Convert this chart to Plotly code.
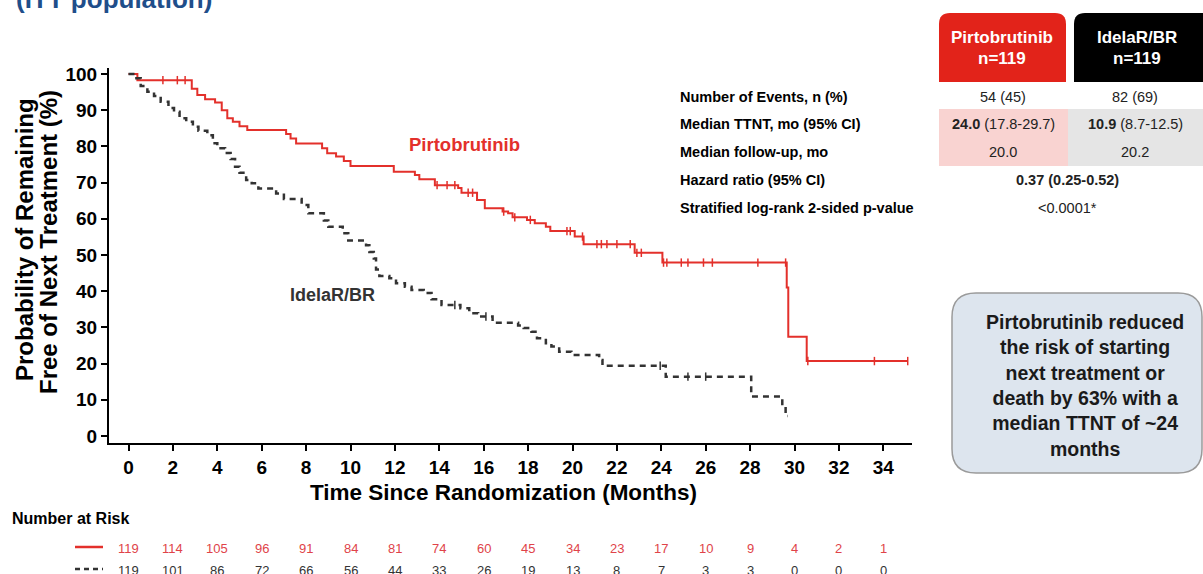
import numpy as np
import plotly.graph_objects as go

# Kaplan-Meier step data: time since randomization (months) and % free of next treatment
pirto_t = [0, 0.4, 2.85, 3.1, 3.45, 3.9, 4.2, 4.45, 4.7, 5.0, 5.35, 7.1, 7.3, 7.55, 8.72,
           8.95, 9.35, 9.7, 10.0, 11.95, 12.9, 13.1, 13.8, 14.85, 15.0, 15.7, 16.05, 16.85,
           17.1, 17.3, 17.95, 18.3, 18.8, 19.0, 20.1, 20.5, 22.8, 24.05, 29.65, 29.72,
           30.55, 35.1]
pirto_s = [100, 98.3, 95.9, 94.2, 93.0, 92.1, 90.0, 87.8, 86.8, 85.6, 84.5, 83.4, 82.2,
           80.8, 79.5, 78.1, 77.2, 76.0, 74.6, 73.0, 72.1, 70.9, 69.3, 68.5, 67.2, 65.2,
           62.9, 62.0, 61.5, 60.4, 59.7, 58.8, 57.8, 56.6, 55.1, 53.0, 50.6, 47.9, 41.0,
           27.4, 20.7, 20.7]

idela_t = [0, 0.3, 0.55, 0.85, 1.15, 1.45, 1.8, 2.05, 2.3, 2.6, 2.9, 3.15, 3.55, 3.8, 4.0,
           4.35, 4.6, 4.8, 5.0, 5.3, 5.55, 5.85, 6.65, 7.0, 7.8, 8.1, 8.8, 9.0, 9.65, 9.9,
           10.7, 10.85, 11.05, 11.15, 11.3, 11.75, 12.05, 12.45, 12.75, 13.3, 13.65, 14.1,
           14.95, 15.35, 15.75, 16.4, 17.55, 17.8, 18.15, 18.4, 18.8, 19.05, 19.4, 19.95,
           21.2, 21.35, 24.2, 28.05, 29.45, 29.6, 29.7]
idela_s = [100, 98.8, 96.7, 95.1, 93.9, 92.3, 90.6, 89.6, 87.8, 86.8, 85.4, 84.3, 83.1,
           80.9, 79.5, 78.2, 76.5, 74.4, 72.7, 70.7, 69.8, 68.4, 67.0, 65.5, 63.8, 61.5,
           59.5, 57.8, 56.0, 54.0, 52.7, 50.8, 49.0, 46.0, 44.2, 43.6, 42.2, 41.2, 40.3,
           39.5, 37.8, 36.2, 35.3, 33.9, 33.0, 31.3, 30.5, 29.8, 28.8, 27.0, 25.6, 24.7,
           23.3, 22.4, 21.0, 19.4, 16.4, 10.9, 8.2, 5.5, 5.5]

# Censoring times (months)
pirto_cens = [1.55, 2.2, 2.55, 13.9, 14.35, 14.7, 15.3, 15.5, 16.9, 17.4, 18.1, 19.75,
              19.9, 20.45, 21.1, 21.3, 21.55, 22.0, 22.6, 22.9, 23.1, 24.1, 24.25, 24.9,
              25.2, 25.9, 26.3, 28.35, 29.6, 30.6, 33.6, 35.1]
idela_cens = [14.7, 16.1, 23.95, 25.2, 26.0]

# Number at risk
risk_months = list(range(0, 36, 2))
pirto_risk = [119, 114, 105, 96, 91, 84, 81, 74, 60, 45, 34, 23, 17, 10, 9, 4, 2, 1]
idela_risk = [119, 101, 86, 72, 66, 56, 44, 33, 26, 19, 13, 8, 7, 3, 3, 0, 0, 0]

x_ticks = list(range(0, 35, 2))
y_ticks = list(range(0, 101, 10))

# Summary table
table_rows = ["Number of Events, n (%)", "Median TTNT, mo (95% CI)", "Median follow-up, mo",
              "Hazard ratio (95% CI)", "Stratified log-rank 2-sided p-value"]
pirto_col = ["54 (45)", "<b>24.0</b> (17.8-29.7)", "20.0"]
idela_col = ["82 (69)", "<b>10.9</b> (8.7-12.5)", "20.2"]
pooled_col = ["<b>0.37 (0.25-0.52)</b>", "&lt;0.0001*"]

RED = "#e3302b"
RED_TXT = "#e04349"
DARK = "#333333"
FONT = "Arial, Liberation Sans, sans-serif"

W, H = 1203, 574
L, R, T, B = 109, 912, 68, 443


def fx(px):
    return (px - L) / (R - L)


def fy(py):
    return (B - py) / (B - T)


def surv_at(ts, ss, t):
    i = np.searchsorted(np.asarray(ts), t, side="right") - 1
    return ss[i]


def rounded_path(x0, y0, x1, y1, r, square_bottom=False):
    rb = 0 if square_bottom else r
    pts = [("M", x0, y1 - rb), ("L", x0, y0 + r), ("Q", x0, y0, x0 + r, y0),
           ("L", x1 - r, y0), ("Q", x1, y0, x1, y0 + r), ("L", x1, y1 - rb)]
    if rb:
        pts += [("Q", x1, y1, x1 - rb, y1), ("L", x0 + rb, y1), ("Q", x0, y1, x0, y1 - rb)]
    else:
        pts += [("L", x0, y1)]
    out = []
    for p in pts:
        if p[0] == "Q":
            out.append(f"Q {fx(p[1]):.5f},{fy(p[2]):.5f} {fx(p[3]):.5f},{fy(p[4]):.5f}")
        else:
            out.append(f"{p[0]} {fx(p[1]):.5f},{fy(p[2]):.5f}")
    return " ".join(out) + " Z"


fig = go.Figure()

fig.add_trace(go.Scatter(x=pirto_t, y=pirto_s, mode="lines",
                         line=dict(color=RED, width=2, shape="hv"), hoverinfo="skip"))
fig.add_trace(go.Scatter(x=idela_t, y=idela_s, mode="lines",
                         line=dict(color=DARK, width=2.5, dash="6px,5px", shape="hv"),
                         hoverinfo="skip"))
fig.add_trace(go.Scatter(x=pirto_cens, y=[surv_at(pirto_t, pirto_s, t) for t in pirto_cens],
                         mode="markers", cliponaxis=False,
                         marker=dict(symbol="line-ns", size=6, line=dict(color=RED, width=1.5)),
                         hoverinfo="skip"))
fig.add_trace(go.Scatter(x=idela_cens, y=[surv_at(idela_t, idela_s, t) for t in idela_cens],
                         mode="markers", cliponaxis=False,
                         marker=dict(symbol="line-ns", size=6, line=dict(color=DARK, width=1.5)),
                         hoverinfo="skip"))

axis_common = dict(showline=True, linewidth=2, linecolor="black", ticks="outside",
                   ticklen=6, tickwidth=2, tickcolor="black", showgrid=False,
                   zeroline=False,
                   tickfont=dict(family=FONT, size=19, color="black", weight="bold"))

fig.update_xaxes(range=[(L - 128.5) / 22.2, (R - 128.5) / 22.2], tickvals=x_ticks,
                 **axis_common)
fig.update_yaxes(range=[-(B - 436) / 3.62, 100 + (74 - T) / 3.62], tickvals=y_ticks,
                 **axis_common)

ann = []


def text(x, y, s, size, color="black", bold=False, xanchor="center", yanchor="middle",
         angle=0, xref="paper"):
    ann.append(dict(x=x, y=y, xref=xref, yref="paper", text=s, showarrow=False,
                    xanchor=xanchor, yanchor=yanchor, textangle=angle,
                    font=dict(family=FONT, size=size, color=color,
                              weight="bold" if bold else "normal")))


# Heading (partly outside the page)
text(fx(14), fy(-1.5), "(ITT population)", 26, "#1f4e8a", True, xanchor="left")

# Axis titles
text(fx(24), fy(240), "Probability of Remaining", 24, bold=True, angle=-90)
text(fx(48), fy(242), "Free of Next Treatment (%)", 24, bold=True, angle=-90)
text(fx(503), fy(492), "Time Since Randomization (Months)", 22.5, bold=True)

# Curve labels
text(fx(464), fy(144), "Pirtobrutinib", 18.5, RED, True)
text(fx(332), fy(295), "IdelaR/BR", 18, DARK, True)

# Number at risk
text(fx(10), fy(518), "Number at Risk", 16, bold=True, xanchor="left")
for m, a, b in zip(risk_months, pirto_risk, idela_risk):
    text(m, fy(548), str(a), 13, RED_TXT, xref="x")
    text(m, fy(570), str(b), 13, DARK, xref="x")

# Summary table
row_y = [97, 124, 152, 180, 208]
for lab, yy in zip(table_rows, row_y):
    text(fx(678), fy(yy), lab, 14.5, bold=True, xanchor="left")
for i, (a, b) in enumerate(zip(pirto_col, idela_col)):
    text(fx(1003), fy(row_y[i]), a, 14.5, "#222222")
    text(fx(1135), fy(row_y[i]), b, 14.5, "#222222")
for i, s in enumerate(pooled_col):
    text(fx(1067), fy(row_y[3 + i]), s, 14.5, "#222222")

text(fx(1002), fy(37), "Pirtobrutinib", 17, "white", True)
text(fx(1002), fy(59), "n=119", 17, "white", True)
text(fx(1137), fy(37), "IdelaR/BR", 17, "white", True)
text(fx(1137), fy(59), "n=119", 17, "white", True)

# Call-out
text(fx(1085), fy(385),
     "Pirtobrutinib reduced<br>the risk of starting<br>next treatment or<br>"
     "death by 63% with a<br>median TTNT of ~24<br>months", 19.5, "#1a1a1a", True)

shapes = [
    dict(type="rect", xref="paper", yref="paper", x0=fx(939), x1=fx(1068), y0=fy(166),
         y1=fy(109), fillcolor="#f9d3d1", line=dict(width=0), layer="below"),
    dict(type="rect", xref="paper", yref="paper", x0=fx(1068), x1=fx(1210), y0=fy(166),
         y1=fy(109), fillcolor="#e5e5e5", line=dict(width=0), layer="below"),
    dict(type="path", xref="paper", yref="paper",
         path=rounded_path(939, 13, 1066, 82, 11, square_bottom=True),
         fillcolor="#e2231a", line=dict(width=0), layer="below"),
    dict(type="path", xref="paper", yref="paper",
         path=rounded_path(1074, 13, 1215, 82, 11, square_bottom=True),
         fillcolor="#000000", line=dict(width=0), layer="below"),
    dict(type="path", xref="paper", yref="paper",
         path=rounded_path(952, 293, 1202, 473, 24),
         fillcolor="#dde5ee", line=dict(color="#9a9a9a", width=1.5), layer="below"),
    dict(type="line", xref="paper", yref="paper", x0=fx(75), x1=fx(103), y0=fy(547),
         y1=fy(547), line=dict(color=RED, width=2.5)),
    dict(type="line", xref="paper", yref="paper", x0=fx(75), x1=fx(103), y0=fy(569),
         y1=fy(569), line=dict(color=DARK, width=2.5, dash="5px,4px")),
]

fig.update_layout(
    width=W, height=H, autosize=False,
    margin=dict(l=L, r=W - R, t=T, b=H - B, pad=0),
    paper_bgcolor="white", plot_bgcolor="white",
    showlegend=False,
    annotations=ann, shapes=shapes,
)

fig.write_html("out.html")
